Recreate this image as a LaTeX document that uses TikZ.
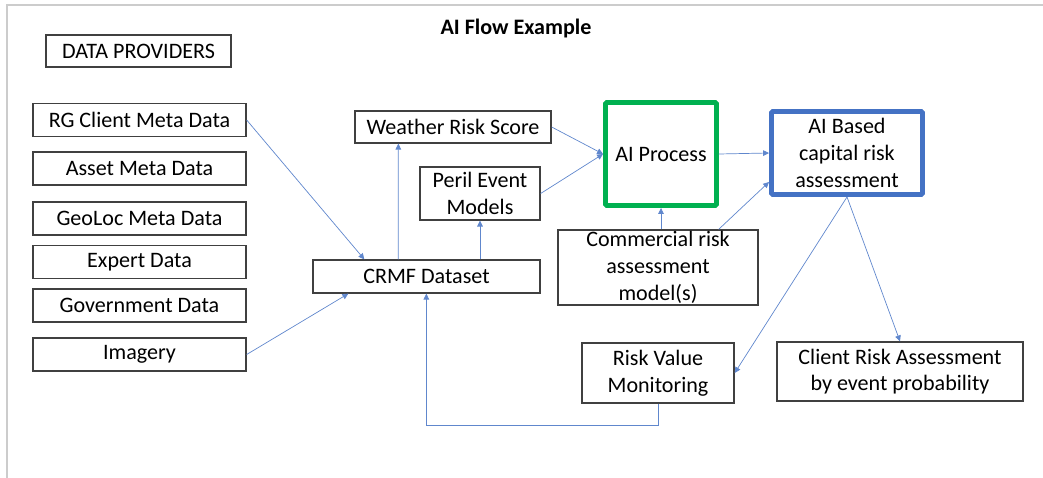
\documentclass[tikz,border=0pt]{standalone}
\usepackage{fontspec}
\setmainfont{Carlito}
\usetikzlibrary{calc,arrows.meta}
\definecolor{flowblue}{RGB}{68,114,196}
\definecolor{flowgreen}{RGB}{0,176,80}

\begin{document}
\begin{tikzpicture}[x=0.025cm, y=-0.025cm,
    box/.style={draw=black!75, line width=0.9pt, inner sep=0pt, align=center,
        font=\fontsize{15.7}{19}\selectfont},
    srcbox/.style={box, minimum width=5.325cm, minimum height=0.83cm},
    flow/.style={flowblue!85, line width=0.5pt, -{Triangle[length=4.2pt,width=4pt]}}]

    \useasboundingbox (0,0) rectangle (1043,478);
    \draw[black!20, line width=1.2pt] (7,478) -- (7,5) -- (1043,5);

    \node[font=\fontsize{15.7}{19}\selectfont\bfseries] (title) at (516,28) {AI Flow Example};

    % data providers
    \node[box, minimum width=4.625cm, minimum height=0.8cm] (prov) at (138.5,51) {DATA PROVIDERS};
    \node[srcbox] (rg)     at (139.5,120)   {RG Client Meta Data};
    \node[srcbox] (asset)  at (139.5,168.5) {Asset Meta Data};
    \node[srcbox] (geo)    at (139.5,218.5) {GeoLoc Meta Data};
    \node[srcbox] (expert) at (139.5,262)   {Expert Data};
    \node[srcbox] (gov)    at (139.5,305.5) {Government Data};
    \node[srcbox] (img)    at (139.5,354.5) {Imagery};

    \node[box, minimum width=5.675cm, minimum height=0.825cm] (crmf) at (426.5,276.5) {CRMF Dataset};
    \node[box, minimum width=4.9cm, minimum height=0.8cm] (weather) at (453,127) {Weather Risk Score};
    \node[box, minimum width=3cm, minimum height=1.325cm] (peril) at (480,193.5) {Peril Event\\Models};

    \node[box, draw=flowgreen, line width=3.5pt, rounded corners=1pt,
        minimum width=2.775cm, minimum height=2.575cm] (aiproc) at (661,154) {AI Process};
    \node[box, draw=flowblue, line width=3.5pt, rounded corners=1pt,
        minimum width=3.775cm, minimum height=2.075cm] (aibased) at (847,153) {AI Based\\capital risk\\assessment};
    \node[box, minimum width=5cm, minimum height=1.875cm] (comm) at (658,267.5) {Commercial risk\\assessment\\model(s)};

    \node[box, minimum width=3.8cm, minimum height=1.5cm] (rvm) at (658,373) {Risk Value\\Monitoring};
    \node[box, minimum width=6.15cm, minimum height=1.475cm] (client) at (900,371.5) {Client Risk Assessment\\by event probability};

    % connectors
    \draw[flow] (rg.east) -- ($(crmf.north west)+(52,0)$);
    \draw[flow] (img.east) -- ($(crmf.south west)+(36,0)$);
    \draw[flow] ($(crmf.north west)+(86,0)$) -- ($(weather.south west)+(44,0)$);
    \draw[flow] (peril.south |- crmf.north) -- (peril.south);
    \draw[flow] (weather.east) -- (aiproc.west);
    \draw[flow] (peril.east) -- (aiproc.west);
    \draw[flow] (aiproc.east) -- (aibased.west);
    \draw[flow] (aiproc.south |- comm.north) -- (aiproc.south);
    \draw[flow] ($(comm.north east)+(-40,0)$) -- ($(aibased.south west)+(0,-15)$);
    \draw[flow] (aibased.south) -- (rvm.east);
    \draw[flow] (aibased.south) -- (client.north);
    \draw[flow] (rvm.south) -- ++(0,22) -| ($(crmf.south west)+(114,0)$);

\end{tikzpicture}
\end{document}
